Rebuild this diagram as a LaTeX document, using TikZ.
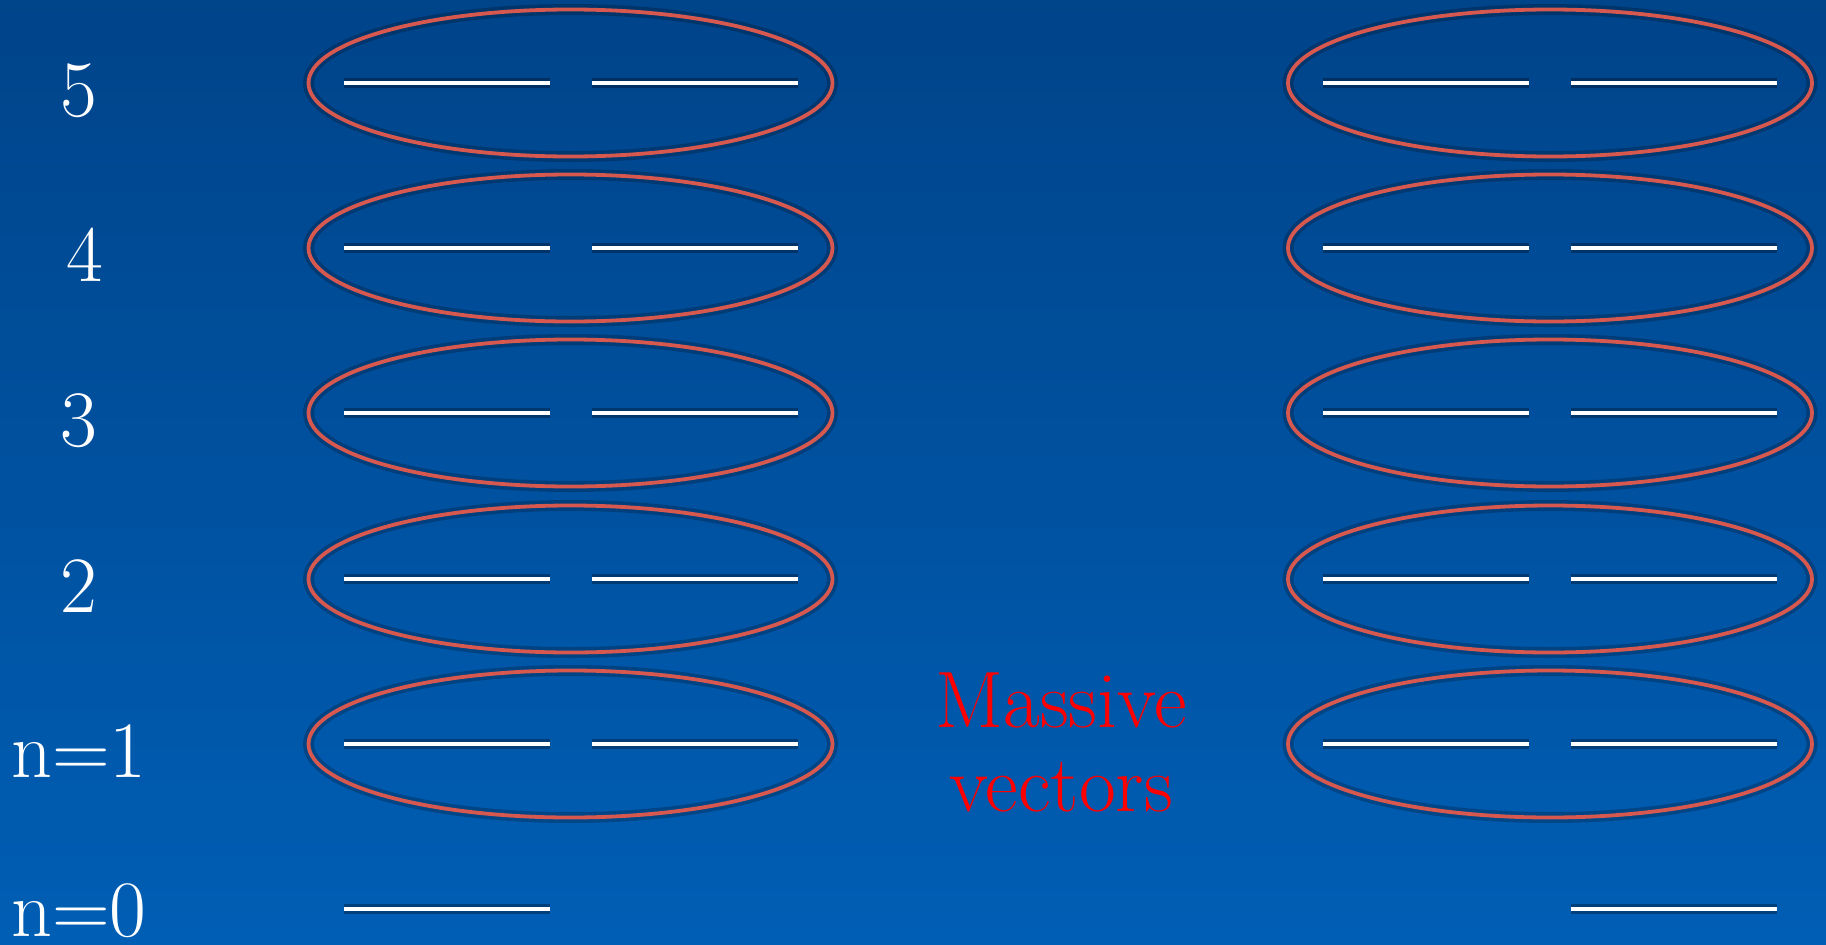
\documentclass[tikz,border=0pt]{standalone}
\usetikzlibrary{shapes.geometric}
\definecolor{bgtop}{RGB}{0,68,138}
\definecolor{bgbot}{RGB}{0,94,180}
\definecolor{ringred}{RGB}{214,88,78}
\tikzset{
  ring/.style={ellipse, draw=ringred, line width=3.8pt, minimum width=524pt, minimum height=147pt, inner sep=0pt,
    preaction={draw=black, draw opacity=0.22, line width=11pt}},
  level/.style={draw=white, line width=4pt, preaction={draw=black, draw opacity=0.3, line width=10pt}},
  lab/.style={text=white, anchor=base, inner sep=0pt, font=\fontsize{80}{84}\selectfont},
  redtext/.style={text=red, align=center, font=\fontsize{80}{84}\selectfont}
}
\begin{document}
\begin{tikzpicture}[x=1pt,y=-1pt]
\useasboundingbox (0,0) rectangle (1826,945);
\shade[top color=bgtop, bottom color=bgbot] (0,0) rectangle (1826,945);
% labels
\node[lab] (l5) at (79,116) {5};
\node[lab] (l4) at (85,281) {4};
\node[lab] (l3) at (79,446) {3};
\node[lab] (l2) at (79,612) {2};
\node[lab] (l1) at (79,777) {n=1};
\node[lab] (l0) at (79,936) {n=0};
% ellipses and levels
\foreach \k/\y in {5/83,4/248,3/413,2/579,1/744}{
  \node[ring] (L\k) at (570.5,\y) {};
  \node[ring] (R\k) at (1550,\y) {};
  \draw[level] (343.5,\y) -- (549.5,\y);
  \draw[level] (591.5,\y) -- (797.5,\y);
  \draw[level] (1323,\y) -- (1529,\y);
  \draw[level] (1571,\y) -- (1777,\y);
}
\draw[level] (343.5,909) -- (549.5,909);
\draw[level] (1571,909) -- (1777,909);
\node[redtext] (mv) at (1061,742) {Massive\\vectors};
\end{tikzpicture}
\end{document}
